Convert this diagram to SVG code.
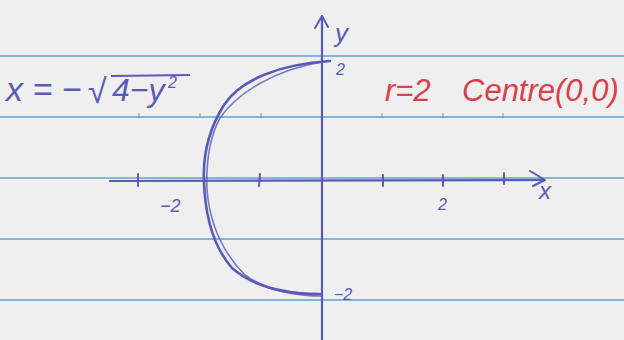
<svg xmlns="http://www.w3.org/2000/svg" width="624" height="340" viewBox="0 0 624 340">
<style>
.rule{stroke:#7fb8d8;stroke-width:2}
.ink{stroke:#5a5ab8;fill:none;stroke-linecap:round;stroke-linejoin:round}
.bt{fill:#5a5ab8;font-family:"Liberation Sans",sans-serif;font-style:italic}
.rt{fill:#d8404c;font-family:"Liberation Sans",sans-serif;font-style:italic}
</style>
<rect width="624" height="340" fill="#efefef"/>
<g id="paper-lines">
<line class="rule" x1="0" y1="56" x2="624" y2="56"/>
<line class="rule" x1="0" y1="117" x2="624" y2="117"/>
<line class="rule" x1="0" y1="178" x2="624" y2="178"/>
<line class="rule" x1="0" y1="239" x2="624" y2="239"/>
<line class="rule" x1="0" y1="300" x2="624" y2="300"/>
<g stroke="#6a6ab8" stroke-width="1.2" opacity="0.6">
<line x1="139" y1="113" x2="139" y2="118"/><line x1="200" y1="113" x2="200" y2="118"/><line x1="261" y1="113" x2="261" y2="118"/>
<line x1="382" y1="113" x2="382" y2="118"/><line x1="443" y1="113" x2="443" y2="118"/><line x1="503" y1="113" x2="503" y2="118"/>
</g>
</g>
<g id="axes">
<path class="ink" stroke-width="2.2" d="M110 181 L544 180"/>
<path class="ink" stroke-width="2" d="M530 171 L545 180 L533 186"/>
<path class="ink" stroke-width="2.2" d="M322 340 L322 16"/>
<path class="ink" stroke-width="2" d="M315 28 L322 16 L328 27"/>
<g class="ink" stroke-width="2">
<line x1="138" y1="174" x2="138" y2="186"/>
<line x1="260" y1="174" x2="259" y2="186"/>
<line x1="383" y1="175" x2="383" y2="186"/>
<line x1="443" y1="175" x2="443" y2="186"/>
<line x1="504" y1="173" x2="504" y2="184"/>
</g>
</g>
<g id="curve">
<path class="ink" stroke-width="2.6" d="M330 61 C280 64 240 80 224 105 C207 132 203 160 204 181 C205 215 212 245 232 268 C255 288 290 294 320 294"/>
<path class="ink" stroke-width="1.6" opacity="0.8" d="M322 62 C275 70 238 92 220 118 C208 140 206 165 207 190 C210 225 222 252 245 275 C268 292 300 296 322 296"/>
</g>
<g id="labels">
<text class="bt" x="335" y="42" font-size="26">y</text>
<text class="bt" x="336" y="75" font-size="16">2</text>
<text class="bt" x="539" y="199" font-size="24">x</text>
<text class="bt" x="160" y="212" font-size="18">−2</text>
<text class="bt" x="438" y="210" font-size="16">2</text>
<text class="bt" x="334" y="300" font-size="16">−2</text>
<text class="bt" x="6" y="101" font-size="34">x = −</text>
<text class="bt" x="88" y="103" font-size="34">√</text>
<line x1="111" y1="76" x2="190" y2="75" stroke="#5a5ab8" stroke-width="2"/>
<text class="bt" x="112" y="101" font-size="32">4−y</text>
<text class="bt" x="168" y="88" font-size="16">2</text>
<text class="rt" y="101" font-size="31"><tspan x="385">r=2</tspan><tspan x="462">Centre(0,0)</tspan></text>
</g>
</svg>
